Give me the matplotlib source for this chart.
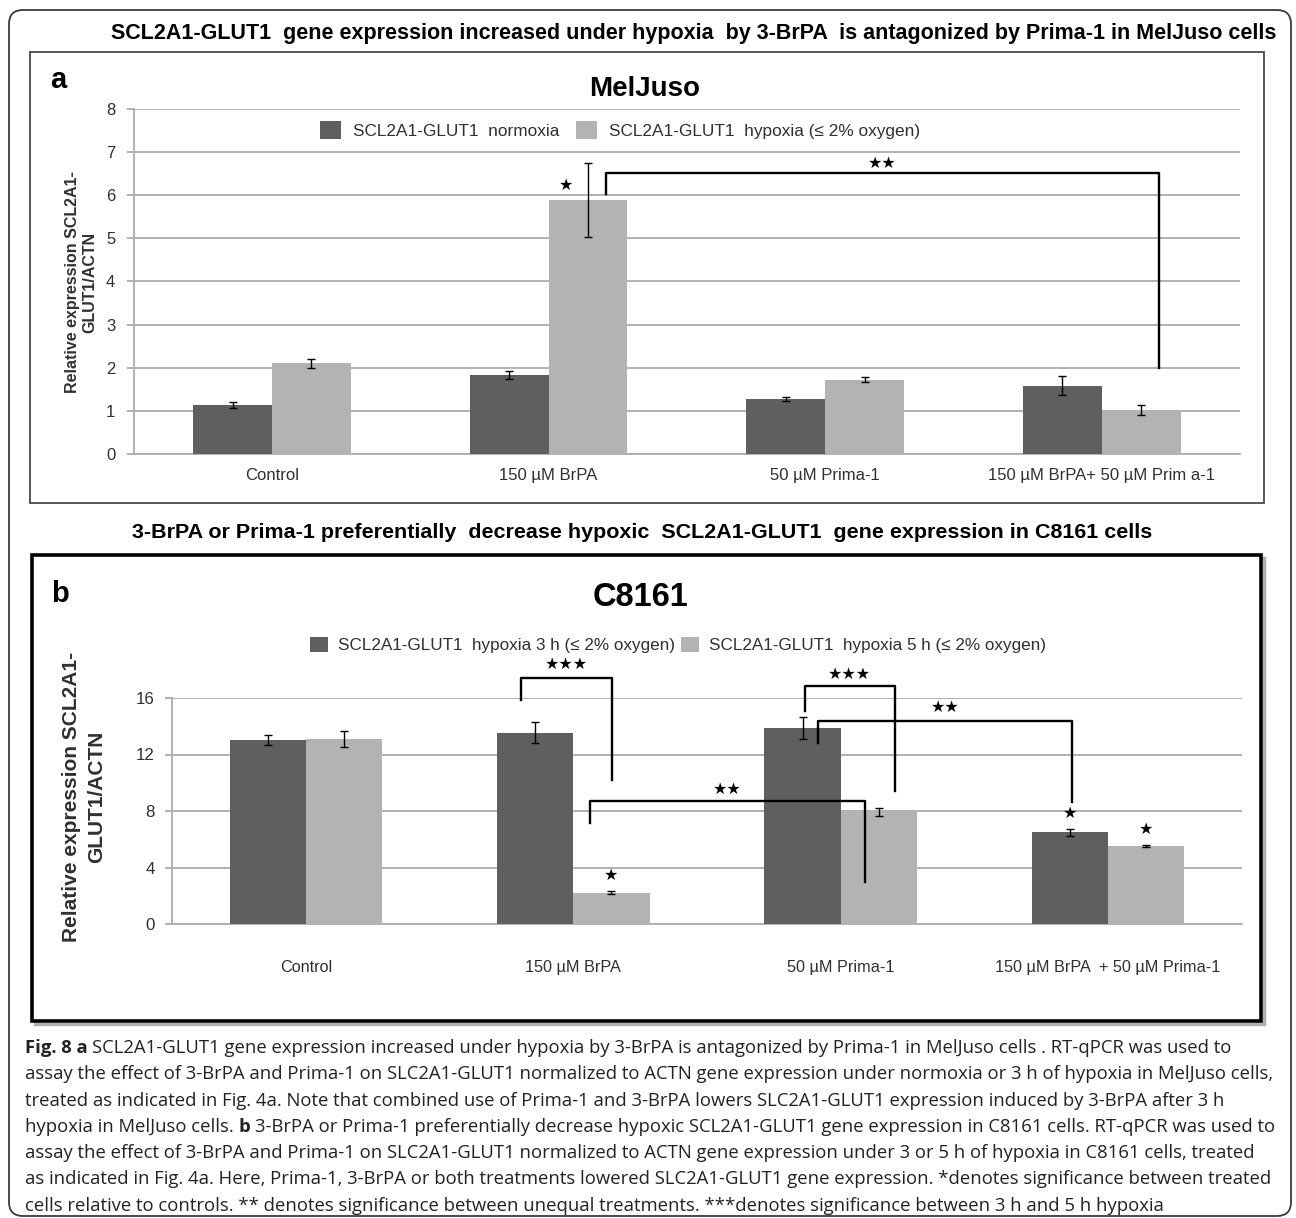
import matplotlib
matplotlib.use('Agg')
import numpy as np
import matplotlib.pyplot as plt
from matplotlib import font_manager
from matplotlib.patches import Rectangle, FancyBboxPatch

# ---------------- data ----------------
# panel a: MelJuso
cats_a = ['Control', '150 µM BrPA', '50 µM Prima-1', '150 µM BrPA+ 50 µM Prim a-1']
norm_a = [1.14, 1.83, 1.27, 1.58]
norm_a_err = [0.07, 0.09, 0.05, 0.22]
hyp_a = [2.10, 5.89, 1.72, 1.02]
hyp_a_err = [0.10, 0.86, 0.06, 0.11]
legend_a = ['SCL2A1-GLUT1  normoxia', 'SCL2A1-GLUT1  hypoxia (≤ 2% oxygen)']

# panel b: C8161
cats_b = ['Control', '150 µM BrPA', '50 µM Prima-1', '150 µM BrPA  + 50 µM Prima-1']
h3_b = [13.0, 13.55, 13.85, 6.49]
h3_b_err = [0.35, 0.77, 0.77, 0.27]
h5_b = [13.1, 2.22, 7.95, 5.52]
h5_b_err = [0.55, 0.10, 0.28, 0.05]
legend_b = ['SCL2A1-GLUT1  hypoxia 3 h (≤ 2% oxygen)', 'SCL2A1-GLUT1  hypoxia 5 h (≤ 2% oxygen)']

title_a = 'SCL2A1-GLUT1  gene expression increased under hypoxia  by 3-BrPA  is antagonized by Prima-1 in MelJuso cells'
title_b = '3-BrPA or Prima-1 preferentially  decrease hypoxic  SCL2A1-GLUT1  gene expression in C8161 cells'

caption = [
    [('Fig. 8 a', True), (' SCL2A1-GLUT1 gene expression increased under hypoxia by 3-BrPA is antagonized by Prima-1 in MelJuso cells . RT-qPCR was used to', False)],
    [('assay the effect of 3-BrPA and Prima-1 on SLC2A1-GLUT1 normalized to ACTN gene expression under normoxia or 3 h of hypoxia in MelJuso cells,', False)],
    [('treated as indicated in Fig. 4a. Note that combined use of Prima-1 and 3-BrPA lowers SLC2A1-GLUT1 expression induced by 3-BrPA after 3 h', False)],
    [('hypoxia in MelJuso cells.', False), (' b', True), (' 3-BrPA or Prima-1 preferentially decrease hypoxic SCL2A1-GLUT1 gene expression in C8161 cells. RT-qPCR was used to', False)],
    [('assay the effect of 3-BrPA and Prima-1 on SLC2A1-GLUT1 normalized to ACTN gene expression under 3 or 5 h of hypoxia in C8161 cells, treated', False)],
    [('as indicated in Fig. 4a. Here, Prima-1, 3-BrPA or both treatments lowered SLC2A1-GLUT1 gene expression. *denotes significance between treated', False)],
    [('cells relative to controls. ** denotes significance between unequal treatments. ***denotes significance between 3 h and 5 h hypoxia', False)],
]

# ---------------- style ----------------
W, H = 1296, 1218
DARK = '#5f5f5f'
LIGHT = '#b3b3b3'
GRID = '#ababab'
TXT = '#303030'
BW = 0.285

names = {f.name for f in font_manager.fontManager.ttflist}
if 'Liberation Sans Narrow' in names:
    NARROW, NS, LS = 'Liberation Sans Narrow', 1.0, 1.0
else:
    NARROW, NS, LS = 'Liberation Sans', 0.87, 0.82
SANS = 'Liberation Sans'
CAPF = 'Open Sans' if 'Open Sans' in names else 'DejaVu Sans'

fig = plt.figure(figsize=(W / 100, H / 100), dpi=100)
bg = fig.add_axes([0, 0, 1, 1], zorder=0)
bg.set_xlim(0, W)
bg.set_ylim(H, 0)
bg.axis('off')
renderer = fig.canvas.get_renderer()


def px_rect(left, right, top, bottom):
    return [left / W, 1 - bottom / H, (right - left) / W, (bottom - top) / H]


def fit_text(x, y, s, width, size0=12, **kw):
    t = bg.text(x, y, s, fontsize=size0, **kw)
    w = t.get_window_extent(renderer).width
    t.set_fontsize(size0 * width / w)
    return t


# frames
bg.add_patch(FancyBboxPatch((9, 10), 1282, 1206, boxstyle='round,pad=0,rounding_size=14',
                            fc='white', ec='#3a3a3a', lw=1.3))
bg.add_patch(Rectangle((30, 52), 1234, 451, fc='none', ec='#4a4a4a', lw=1.3))
bg.add_patch(Rectangle((35, 558), 1229, 466, fc='none', ec='#b0b0b0', lw=2.5))
bg.add_patch(Rectangle((32, 555), 1229, 466, fc='white', ec='black', lw=2.6))

# titles
fit_text(694, 33, title_a, 1157, family=SANS, fontweight='bold', ha='center', va='center')
fit_text(642, 533, title_b, 1012, family=SANS, fontweight='bold', ha='center', va='center')
bg.text(58, 80, 'a', fontsize=21, fontweight='bold', family=SANS, ha='center', va='center')
bg.text(60, 594, 'b', fontsize=21, fontweight='bold', family=SANS, ha='center', va='center')
bg.text(645, 89, 'MelJuso', fontsize=20, fontweight='bold', family=SANS, ha='center', va='center')
bg.text(641, 597, 'C8161', fontsize=27 * NS, fontweight='bold', family=NARROW, ha='center', va='center')
bg.text(81, 282, 'Relative expression SCL2A1-\nGLUT1/ACTN', rotation=90, fontsize=11.5,
        fontweight='bold', family=SANS, ha='center', va='center', linespacing=1.2, color=TXT)
bg.text(84, 797, 'Relative expression SCL2A1-\nGLUT1/ACTN', rotation=90, fontsize=15,
        fontweight='bold', family=SANS, ha='center', va='center', linespacing=1.45, color=TXT)


def draw_panel(ax, cats, v1, e1, v2, e2, ymax, step):
    x = np.arange(len(cats))
    b1 = ax.bar(x - BW / 2, v1, BW, color=DARK, zorder=3)
    b2 = ax.bar(x + BW / 2, v2, BW, color=LIGHT, zorder=3)
    for off, v, e in [(-BW / 2, v1, e1), (BW / 2, v2, e2)]:
        ax.errorbar(x + off, v, yerr=e, fmt='none', ecolor='black', elinewidth=1.0,
                    capsize=3.2, capthick=1.0, zorder=4)
    ax.set_xlim(-0.5, len(cats) - 0.5)
    ax.set_ylim(0, ymax)
    ax.set_yticks(np.arange(0, ymax + 1, step))
    ax.set_xticks(x)
    ax.set_xticklabels(cats)
    ax.yaxis.grid(True, color=GRID, lw=1.3)
    ax.set_axisbelow(True)
    for s in ['top', 'right']:
        ax.spines[s].set_visible(False)
    for s in ['left', 'bottom']:
        ax.spines[s].set_color(GRID)
        ax.spines[s].set_linewidth(1.3)
    ax.set_facecolor('none')
    ax.tick_params(axis='y', length=4.8, width=1.3, color=GRID, labelcolor=TXT)
    ax.tick_params(axis='x', length=0, labelcolor=TXT)
    return b1, b2


def bracket(ax, xl, yl, yt, xr, yr, label, ly):
    ax.plot([xl, xl, xr, xr], [yl, yt, yt, yr], color='black', lw=1.7, clip_on=False,
            solid_joinstyle='round', zorder=5)
    ax.text((xl + xr) / 2, ly, label, fontsize=11.5, family='DejaVu Sans', ha='center',
            va='center', clip_on=False, zorder=5)


# ---- panel a ----
ax_a = fig.add_axes(px_rect(133.7, 1240, 108.7, 454), zorder=2)
ba = draw_panel(ax_a, cats_a, norm_a, norm_a_err, hyp_a, hyp_a_err, 8, 1)
for t in ax_a.get_yticklabels():
    t.set_fontsize(12)
    t.set_family(SANS)
for t in ax_a.get_xticklabels():
    t.set_fontsize(12)
    t.set_family(SANS)
ax_a.tick_params(axis='y', pad=8.5)
ax_a.tick_params(axis='x', pad=10)
ax_a.legend(ba, legend_a, loc='center', bbox_to_anchor=(620 / W, 1 - 130 / H),
            bbox_transform=fig.transFigure, ncol=2, frameon=False,
            prop={'family': [SANS, 'DejaVu Sans'], 'size': 12.4}, handlelength=1.2,
            handleheight=1.2, handletextpad=0.7, columnspacing=1.0, borderpad=0,
            borderaxespad=0, labelcolor=TXT)
bracket(ax_a, 1.207, 6.03, 6.51, 3.206, 1.99, '★★', 6.74)
ax_a.text(1.063, 6.23, '★', fontsize=11.5, family='DejaVu Sans', ha='center', va='center', zorder=5)

# ---- panel b ----
ax_b = fig.add_axes(px_rect(172.3, 1241.7, 698, 924), zorder=2)
bb = draw_panel(ax_b, cats_b, h3_b, h3_b_err, h5_b, h5_b_err, 16, 4)
for t in ax_b.get_yticklabels():
    t.set_fontsize(14 * NS)
    t.set_family(NARROW)
for t in ax_b.get_xticklabels():
    t.set_fontsize(13.5 * NS)
    t.set_family(NARROW)
ax_b.tick_params(axis='y', pad=8)
ax_b.tick_params(axis='x', pad=26)
ax_b.legend(bb, legend_b, loc='center', bbox_to_anchor=(678 / W, 1 - 645 / H),
            bbox_transform=fig.transFigure, ncol=2, frameon=False,
            prop={'family': [NARROW, 'DejaVu Sans'], 'size': 15 * LS}, handlelength=1.05,
            handleheight=1.05, handletextpad=0.6, columnspacing=0.3, borderpad=0,
            borderaxespad=0, labelcolor=TXT)
bracket(ax_b, 0.805, 15.86, 17.4, 1.145, 10.2, '★★★', 18.4)
bracket(ax_b, 1.064, 7.15, 8.71, 2.09, 2.97, '★★', 9.56)
bracket(ax_b, 1.865, 15.1, 16.85, 2.202, 9.44, '★★★', 17.7)
bracket(ax_b, 1.916, 12.8, 14.4, 2.864, 8.66, '★★', 15.36)
# stars over bars that differ from control
for xi, off, v, e in [(1, BW / 2, h5_b, h5_b_err), (3, -BW / 2, h3_b, h3_b_err), (3, BW / 2, h5_b, h5_b_err)]:
    ax_b.text(xi + off, v[xi] + e[xi] + 1.1, '★', fontsize=11.5, family='DejaVu Sans',
              ha='center', va='center', zorder=5)

# ---- caption ----
probe = bg.text(0, 0, caption[1][0][0], fontsize=12, family=CAPF)
cap_size = 12 * 1241 / probe.get_window_extent(renderer).width
probe.remove()
sp = bg.text(0, 0, 'a a', fontsize=cap_size, family=CAPF)
sp2 = bg.text(0, 0, 'aa', fontsize=cap_size, family=CAPF)
space_w = sp.get_window_extent(renderer).width - sp2.get_window_extent(renderer).width
sp.remove()
sp2.remove()
for i, parts in enumerate(caption):
    x = 25
    y = 1048 + i * 26.3
    for txt, bold in parts:
        lead = len(txt) - len(txt.lstrip(' '))
        x += lead * space_w
        t = bg.text(x, y, txt.lstrip(' '), fontsize=cap_size, family=CAPF,
                    fontweight='bold' if bold else 'normal', ha='left', va='center', color='#222222')
        x += t.get_window_extent(renderer).width

fig.savefig('out.png', dpi=100)
